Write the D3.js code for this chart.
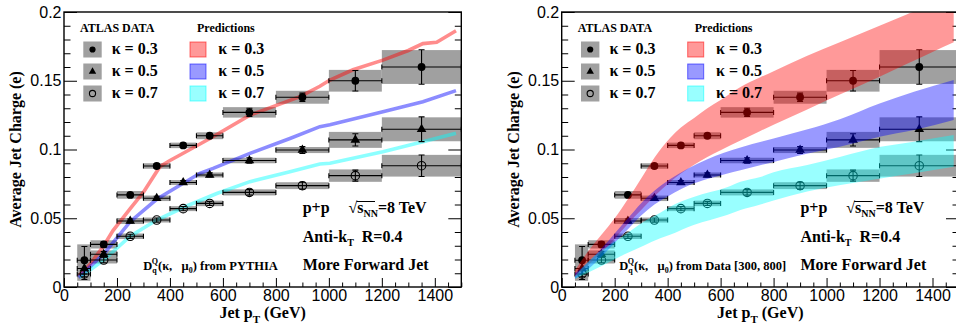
<!DOCTYPE html>
<html>
<head>
<meta charset="utf-8">
<script src="https://cdn.jsdelivr.net/npm/d3@7"></script>
<style>
body { margin: 0; background: #fff; }
svg text { font-family: "Liberation Serif", "Times New Roman", serif; font-weight: bold; fill: #000; }
.tick text { font-family: "Liberation Sans", Arial, sans-serif; font-weight: normal; font-size: 16px; }
</style>
</head>
<body>
<svg width="956" height="331"></svg>
<script>
// jet pT bins (GeV)
const ptLow  = [50, 100, 200, 300, 400, 500, 600, 800, 1000, 1200];
const ptHigh = [100, 200, 300, 400, 500, 600, 800, 1000, 1200, 1500];
const ptMean = [77, 150, 250, 350, 450, 550, 700, 900, 1100, 1350];

// ATLAS data, average jet charge
const k03     = [0.0195, 0.031, 0.067, 0.088, 0.103, 0.110, 0.127, 0.138, 0.150, 0.160];
const k03Stat = [0.010, 0.002, 0.0015, 0.0015, 0.0015, 0.0015, 0.003, 0.003, 0.0075, 0.0125];
const k03Sys  = [0.0115, 0.003, 0.0028, 0.002, 0.002, 0.0025, 0.0038, 0.0047, 0.0079, 0.0123];

const k05     = [0.0135, 0.0238, 0.048, 0.0645, 0.076, 0.0815, 0.092, 0.0996, 0.107, 0.1147];
const k05Stat = [0.006, 0.002, 0.0015, 0.0015, 0.0015, 0.0015, 0.002, 0.0025, 0.0045, 0.009];
const k05Sys  = [0.007, 0.0028, 0.0022, 0.002, 0.0018, 0.0018, 0.002, 0.0022, 0.0058, 0.0087];

const k07     = [0.0095, 0.0196, 0.0369, 0.0487, 0.057, 0.0608, 0.0688, 0.0737, 0.081, 0.0882];
const k07Stat = [0.004, 0.002, 0.0015, 0.0015, 0.0015, 0.0015, 0.002, 0.0025, 0.004, 0.0078];
const k07Sys  = [0.005, 0.0025, 0.002, 0.0018, 0.0018, 0.002, 0.0022, 0.0025, 0.0045, 0.0079];

// PYTHIA predictions [pT, charge]
const lineK03 = [[55, 0.008], [100, 0.017], [150, 0.030], [185, 0.041], [250, 0.057], [300, 0.069],
  [362, 0.0875], [400, 0.092], [438, 0.096], [551, 0.108], [702, 0.125], [891, 0.1384], [966, 0.146],
  [1004, 0.1505], [1091, 0.158], [1204, 0.165], [1300, 0.172], [1355, 0.177], [1407, 0.178], [1480, 0.1864]];
const lineK05 = [[55, 0.007], [100, 0.015], [150, 0.024], [250, 0.0475], [350, 0.0638], [513, 0.0827],
  [563, 0.0863], [702, 0.0972], [853, 0.108], [966, 0.1166], [1004, 0.118], [1204, 0.1275],
  [1355, 0.1348], [1480, 0.1428]];
const lineK07 = [[60, 0.007], [150, 0.0196], [250, 0.037], [350, 0.0487], [463, 0.0589], [577, 0.068],
  [702, 0.0766], [853, 0.0839], [966, 0.0895], [1004, 0.09], [1204, 0.0984], [1355, 0.1057], [1480, 0.1118]];

// predictions with D from data [pT, low, high]
const bandK03 = [[50, 0.007, 0.012], [100, 0.016, 0.026], [150, 0.025, 0.038], [200, 0.035, 0.050],
  [250, 0.046, 0.064], [300, 0.056, 0.079], [350, 0.066, 0.094], [410, 0.0765, 0.1085], [450, 0.0825, 0.116],
  [500, 0.089, 0.123], [550, 0.0945, 0.130], [600, 0.0995, 0.136], [675, 0.1065, 0.1455], [750, 0.1135, 0.1525],
  [800, 0.118, 0.157], [925, 0.129, 0.168], [1050, 0.140, 0.178], [1200, 0.153, 0.190], [1300, 0.162, 0.198],
  [1400, 0.171, 0.206], [1480, 0.178, 0.213]];
const bandK05 = [[50, 0.006, 0.010], [100, 0.013, 0.018], [150, 0.022, 0.028], [200, 0.032, 0.039],
  [250, 0.042, 0.050], [300, 0.052, 0.061], [350, 0.060, 0.070], [410, 0.067, 0.0785], [475, 0.0735, 0.086],
  [550, 0.0785, 0.093], [675, 0.085, 0.1015], [800, 0.091, 0.108], [925, 0.097, 0.1145], [1050, 0.102, 0.122],
  [1200, 0.1093, 0.1335], [1330, 0.1142, 0.142], [1480, 0.1215, 0.1505]];
const bandK07 = [[50, 0.006, 0.008], [120, 0.0124, 0.022], [208, 0.021, 0.034], [246, 0.0245, 0.039],
  [309, 0.030, 0.0475], [372, 0.0354, 0.054], [409, 0.038, 0.0584], [498, 0.0451, 0.0655], [624, 0.0524, 0.0725],
  [675, 0.056, 0.0765], [750, 0.060, 0.080], [800, 0.063, 0.0835], [927, 0.0695, 0.0887], [1053, 0.0742, 0.0948],
  [1204, 0.079, 0.102], [1329, 0.0827, 0.1057], [1480, 0.0875, 0.1105]];

const kappaLabels = ['0.3', '0.5', '0.7'];
const predColors = ['#ff0000', '#0000ff', '#00ffff'];

const svg = d3.select('svg');
const W = 397.3, H = 275, oy = 12;

const x = d3.scaleLinear().domain([0, 1500]).range([0, W]);
const y = d3.scaleLinear().domain([0, 0.2]).range([H, 0]);

const series = [
  { val: k03, stat: k03Stat, sys: k03Sys, line: lineK03, band: bandK03, marker: 'dot' },
  { val: k05, stat: k05Stat, sys: k05Sys, line: lineK05, band: bandK05, marker: 'tri' },
  { val: k07, stat: k07Stat, sys: k07Sys, line: lineK07, band: bandK07, marker: 'open' }
];

function marker(sel, type, small) {
  if (type === 'open') {
    sel.append('path').attr('d', d3.symbol(d3.symbolCircle, small ? 30 : 56)())
      .attr('fill', 'none').attr('stroke', '#000').attr('stroke-width', 1.1);
  } else if (type === 'tri') {
    sel.append('path').attr('d', d3.symbol(d3.symbolTriangle, small ? 24 : 40)())
      .attr('fill', '#000');
  } else {
    sel.append('path').attr('d', d3.symbol(d3.symbolCircle, small ? 30 : 48)())
      .attr('fill', '#000');
  }
}

function drawPanel(ox, mode, id) {
  const g = svg.append('g').attr('transform', `translate(${ox},${oy})`);

  g.append('clipPath').attr('id', 'clip' + id)
    .append('rect').attr('width', W).attr('height', H);

  // axes, ticks pointing inside
  const xMaj = d3.range(0, 1501, 200), xMin = d3.range(0, 1501, 50).filter(v => v % 200);
  const yMaj = [0, 0.05, 0.1, 0.15, 0.2], yMin = d3.range(0, 21).map(v => v / 100).filter((v, i) => i % 5);

  g.append('g').attr('transform', `translate(0,${H})`)
    .call(d3.axisBottom(x).tickValues(xMaj).tickSize(-9).tickPadding(3).tickFormat(d3.format('d')));
  g.append('g').attr('transform', `translate(0,${H})`)
    .call(d3.axisBottom(x).tickValues(xMin).tickSize(-4.5).tickFormat(''));
  g.append('g')
    .call(d3.axisLeft(y).tickValues(yMaj).tickSize(-13).tickPadding(2.5).tickFormat(d => d === 0 ? '0' : String(+d.toFixed(2))));
  g.append('g')
    .call(d3.axisLeft(y).tickValues(yMin).tickSize(-6.5).tickFormat(''));
  g.append('g').attr('transform', `translate(${W},0)`)
    .call(d3.axisRight(y).tickValues(yMaj).tickSize(-13).tickFormat(''));
  g.append('g').attr('transform', `translate(${W},0)`)
    .call(d3.axisRight(y).tickValues(yMin).tickSize(-6.5).tickFormat(''));
  g.selectAll('.domain').remove();
  g.selectAll('.tick line').attr('stroke', '#000').attr('stroke-width', 1);

  const plot = g.append('g').attr('clip-path', `url(#clip${id})`);

  // systematic boxes
  series.forEach(s => {
    plot.append('g').selectAll('rect').data(s.val).join('rect')
      .attr('x', (d, i) => x(ptLow[i]))
      .attr('width', (d, i) => x(ptHigh[i]) - x(ptLow[i]))
      .attr('y', (d, i) => y(d + s.sys[i]))
      .attr('height', (d, i) => y(d - s.sys[i]) - y(d + s.sys[i]))
      .attr('fill', '#a0a0a0');
  });

  if (mode === 'lines') {
    series.forEach((s, k) => {
      plot.append('path').datum(s.line)
        .attr('d', d3.line().x(d => x(d[0])).y(d => y(d[1])))
        .attr('fill', 'none').attr('stroke', predColors[k])
        .attr('stroke-opacity', 0.45).attr('stroke-width', 3.6);
    });
  }

  // data points with stat errors
  series.forEach(s => {
    const pg = plot.append('g').selectAll('g').data(s.val).join('g');
    pg.append('path')
      .attr('d', (d, i) => {
        const y0 = y(d), xl = x(ptLow[i]), xr = x(ptHigh[i]), xm = x(ptMean[i]);
        const yt = y(d + s.stat[i]), yb = y(d - s.stat[i]);
        return `M${xl},${y0}H${xr}M${xl},${y0 - 2.5}V${y0 + 2.5}M${xr},${y0 - 2.5}V${y0 + 2.5}` +
          `M${xm},${yt}V${yb}M${xm - 3},${yt}H${xm + 3}M${xm - 3},${yb}H${xm + 3}`;
      })
      .attr('stroke', '#000').attr('stroke-width', 1.1).attr('fill', 'none');
    pg.append('g').attr('transform', (d, i) => `translate(${x(ptMean[i])},${y(d)})`)
      .each(function () { marker(d3.select(this), s.marker, false); });
  });

  if (mode === 'bands') {
    series.forEach((s, k) => {
      plot.append('path').datum(s.band)
        .attr('d', d3.area().curve(d3.curveMonotoneX).x(d => x(d[0])).y0(d => y(d[1])).y1(d => y(d[2])))
        .attr('fill', predColors[k]).attr('fill-opacity', 0.4);
    });
  }

  // frame
  g.append('rect').attr('width', W).attr('height', H)
    .attr('fill', 'none').attr('stroke', '#000').attr('stroke-width', 1.4);

  // legend
  const lg = g.append('g');
  lg.append('text').attr('x', 16).attr('y', 19.7).attr('font-size', 12).text('ATLAS DATA');
  lg.append('text').attr('x', 133).attr('y', 19.7).attr('font-size', 12).text('Predictions');
  kappaLabels.forEach((lab, k) => {
    const cy = 37.5 + k * 22;
    lg.append('rect').attr('x', 19.3).attr('y', cy - 8).attr('width', 18.4).attr('height', 16).attr('fill', '#a0a0a0');
    marker(lg.append('g').attr('transform', `translate(28.5,${cy})`), series[k].marker, true);
    lg.append('text').attr('x', 47.7).attr('y', cy + 4.5).attr('font-size', 16).text('\u03ba = ' + lab);
    lg.append('rect').attr('x', 126).attr('y', cy - 7.5).attr('width', 16).attr('height', 15)
      .attr('fill', predColors[k]).attr('fill-opacity', 0.4)
      .attr('stroke', predColors[k]).attr('stroke-opacity', 0.55).attr('stroke-width', 1);
    lg.append('text').attr('x', 154.3).attr('y', cy + 4.5).attr('font-size', 16).text('\u03ba = ' + lab);
  });

  // annotations
  const t1 = g.append('text').attr('x', 238.7).attr('y', 201).attr('font-size', 16);
  t1.append('tspan').text('p+p');
  t1.append('tspan').attr('x', 284.5).text('\u221a');
  t1.append('tspan').text('s');
  t1.append('tspan').attr('font-size', 10).attr('dy', 4).text('NN');
  t1.append('tspan').attr('dy', -4).text('=8 TeV');
  g.append('line').attr('x1', 292.5).attr('x2', 311).attr('y1', 189.5).attr('y2', 189.5)
    .attr('stroke', '#000').attr('stroke-width', 1);

  const t2 = g.append('text').attr('x', 238.7).attr('y', 229.7).attr('font-size', 16);
  t2.append('tspan').text('Anti-k');
  t2.append('tspan').attr('font-size', 10).attr('dy', 4).text('T');
  t2.append('tspan').attr('dy', -4).text('\u2002R=0.4');

  g.append('text').attr('x', 238.7).attr('y', 258).attr('font-size', 16).text('More Forward Jet');

  const nx = mode === 'lines' ? 79.3 : 57.6;
  const t3 = g.append('text').attr('x', nx).attr('y', 258).attr('font-size', 12.5);
  t3.append('tspan').text('D');
  t3.append('tspan').attr('font-size', 8).attr('dy', 3).text('q');
  t3.append('tspan').attr('font-size', 8).attr('dx', -5).attr('dy', -9).text('Q');
  t3.append('tspan').attr('dy', 6).text('(\u03ba,\u2002 \u03bc');
  t3.append('tspan').attr('font-size', 8).attr('dy', 3).text('0');
  t3.append('tspan').attr('dy', -3).text(mode === 'lines' ? ') from PYTHIA' : ') from Data [300, 800]');

  // axis titles
  const xt = g.append('text').attr('x', W / 2).attr('y', 306).attr('text-anchor', 'middle').attr('font-size', 16);
  xt.append('tspan').text('Jet p');
  xt.append('tspan').attr('font-size', 11).attr('dy', 5).text('T');
  xt.append('tspan').attr('dy', -5).text(' (GeV)');

  g.append('text').attr('transform', `translate(-43,${H / 2}) rotate(-90)`)
    .attr('text-anchor', 'middle').attr('font-size', 16).text('Average Jet Charge (e)');
}

drawPanel(64, 'lines', 'L');
drawPanel(561.7, 'bands', 'R');
</script>
</body>
</html>
